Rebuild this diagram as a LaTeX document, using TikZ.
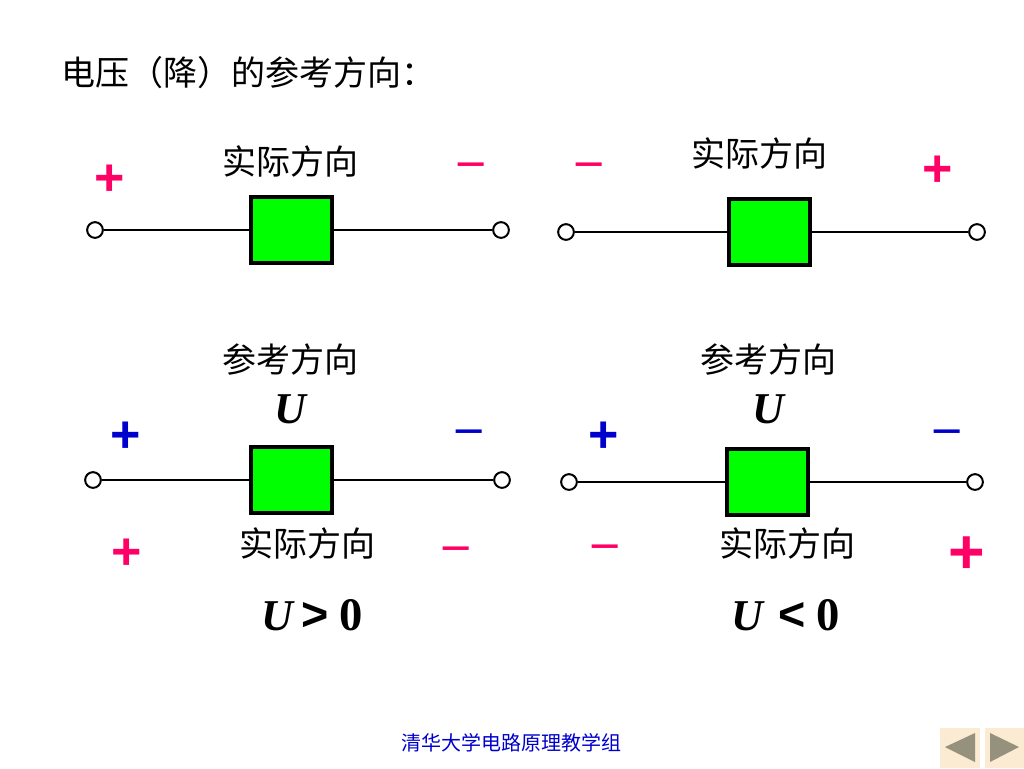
\documentclass[tikz,border=0pt]{standalone}
\usepackage{fontspec}
\setmainfont{Liberation Serif}
\newfontfamily\cjk{Noto Sans CJK SC}
\newfontfamily\signfont{Liberation Sans}
\newcommand{\bignum}[1]{{\upshape\fontsize{35}{36}\selectfont #1}}
\newcommand{\relsign}[1]{{\signfont\upshape\fontsize{35}{36}\selectfont #1}}
\definecolor{signred}{RGB}{255,0,102}
\definecolor{signblue}{RGB}{0,0,204}
\definecolor{boxgreen}{RGB}{0,255,0}
\definecolor{navbg}{RGB}{250,235,210}
\definecolor{navtip}{RGB}{150,145,125}
\begin{document}
\begin{tikzpicture}[x=0.75pt,y=-0.75pt]
  \tikzset{terminal/.style={draw, circle, inner sep=0pt, minimum size=11.8pt, line width=1.5pt, fill=white}}
  \tikzset{element/.style={draw, line width=3pt, fill=boxgreen, inner sep=0pt, minimum width=60.75pt, minimum height=49.5pt}}
  \tikzset{caption/.style={font=\cjk\fontsize{25.5}{30}\selectfont, inner sep=0pt}}
  \tikzset{plus/.style={font=\signfont\bfseries\fontsize{39}{40}\selectfont, inner sep=0pt}}
  \tikzset{minus/.style={font=\bfseries\fontsize{38}{40}\selectfont, inner sep=0pt}}
  \tikzset{symb/.style={font=\bfseries\itshape\fontsize{33}{36}\selectfont, inner sep=0pt}}
  \useasboundingbox (0,0) rectangle (1024,768);

  \node[caption,anchor=west] at (61,73) (title) {电压（降）的参考方向：};

  \node[element] at (291.5,230) (e1) {};
  \node[element] at (769.5,232) (e2) {};
  \node[element] at (291.5,480) (e3) {};
  \node[element] at (767.5,482) (e4) {};

  \node[terminal] at (95,230) (a1) {};
  \node[terminal] at (501,230) (b1) {};
  \node[terminal] at (566,232) (a2) {};
  \node[terminal] at (977,232) (b2) {};
  \node[terminal] at (93,480) (a3) {};
  \node[terminal] at (502,480) (b3) {};
  \node[terminal] at (569,482) (a4) {};
  \node[terminal] at (975,482) (b4) {};

  \path[line width=1.5pt] (a1) edge node {} (e1);
  \path[line width=1.5pt] (e1) edge node {} (b1);
  \path[line width=1.5pt] (a2) edge node {} (e2);
  \path[line width=1.5pt] (e2) edge node {} (b2);
  \path[line width=1.5pt] (a3) edge node {} (e3);
  \path[line width=1.5pt] (e3) edge node {} (b3);
  \path[line width=1.5pt] (a4) edge node {} (e4);
  \path[line width=1.5pt] (e4) edge node {} (b4);

  \node[caption] at (290,161) (c1) {实际方向};
  \node[caption] at (759,153) (c2) {实际方向};
  \node[caption] at (290,360) (c3) {参考方向};
  \node[caption] at (768,360) (c4) {参考方向};
  \node[caption] at (307,543) (c5) {实际方向};
  \node[caption] at (787,543) (c6) {实际方向};

  \node[plus,text=signred] at (110,180) (p1) {+};
  \node[minus,text=signred] at (471,170) (m1) {–};
  \node[minus,text=signred] at (589,170) (m2) {–};
  \node[plus,text=signred] at (938,171) (p2) {+};
  \node[plus,text=signblue] at (126,437) (p3) {+};
  \node[minus,text=signblue] at (469,437) (m3) {–};
  \node[plus,text=signblue] at (604,437) (p4) {+};
  \node[minus,text=signblue] at (947,437) (m4) {–};
  \node[plus,text=signred] at (127,554) (p5) {+};
  \node[minus,text=signred] at (456,554) (m5) {–};
  \node[minus,text=signred] at (605,552) (m6) {–};
  \node[plus,text=signred,font=\signfont\bfseries\fontsize{47}{48}\selectfont] at (967,555) (p6) {+};

  \node[symb] at (290,409) (u1) {U};
  \node[symb] at (768,409) (u2) {U};
  \node[symb] at (312.5,615) (r1) {U\hspace{6pt}\relsign{>}\hspace{8pt}\bignum{0}};
  \node[symb] at (785.5,615) (r2) {U\hspace{11pt}\relsign{<}\hspace{8pt}\bignum{0}};

  \node[font=\cjk\fontsize{15}{18}\selectfont,text=signblue,inner sep=0pt] at (511,743) (foot) {清华大学电路原理教学组};

  % buttons at the corner
  \fill[navbg] (940,728) rectangle (980,768);
  \fill[navbg] (985,728) rectangle (1024,768);
  \fill[navtip] (945,747) -- (975,733) -- (975,762) -- cycle;
  \fill[navtip] (990,733) -- (1019,747) -- (990,762) -- cycle;
\end{tikzpicture}
\end{document}
